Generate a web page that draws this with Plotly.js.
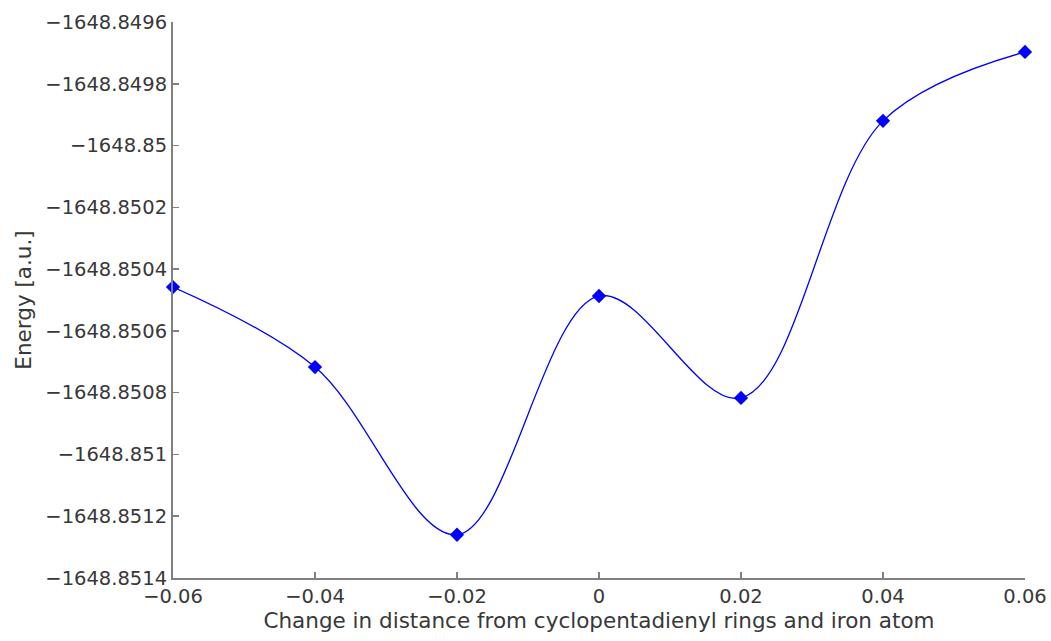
<!DOCTYPE html>
<html>
<head>
<meta charset="utf-8">
<script src="https://cdn.plot.ly/plotly-3.0.1.min.js"></script>
<style>html,body{margin:0;padding:0;background:#fff;}#chart{width:1051px;height:641px;}</style>
</head>
<body>
<div id="chart"></div>
<script>
const distanceChange = [-0.06, -0.04, -0.02, 0, 0.02, 0.04, 0.06];
const energy = [-1648.850458, -1648.850717, -1648.851260, -1648.850487, -1648.850817, -1648.849920, -1648.849697];
const yTickVals = [-1648.8514, -1648.8512, -1648.8510, -1648.8508, -1648.8506, -1648.8504, -1648.8502, -1648.8500, -1648.8498, -1648.8496];
const yTickText = ["\u22121648.8514", "\u22121648.8512", "\u22121648.851", "\u22121648.8508", "\u22121648.8506", "\u22121648.8504", "\u22121648.8502", "\u22121648.85", "\u22121648.8498", "\u22121648.8496"];
const xTickVals = [-0.06, -0.04, -0.02, 0, 0.02, 0.04, 0.06];
const xTickText = ["\u22120.06", "\u22120.04", "\u22120.02", "0", "0.02", "0.04", "0.06"];

const tickFont = {family: "DejaVu Sans, sans-serif", size: 19.5, color: "#383838"};
const titleFont = {family: "DejaVu Sans, sans-serif", size: 21.5, color: "#383838"};

Plotly.newPlot("chart", [{
  x: distanceChange,
  y: energy,
  type: "scatter",
  mode: "lines+markers",
  line: {color: "#0000ff", width: 1.3, shape: "spline", smoothing: 1},
  marker: {color: "#0000ff", symbol: "diamond", size: 11},
  cliponaxis: false,
  hoverinfo: "skip"
}], {
  width: 1051, height: 641,
  margin: {l: 173, r: 26, t: 22, b: 63},
  paper_bgcolor: "#ffffff", plot_bgcolor: "#ffffff",
  font: tickFont,
  showlegend: false,
  xaxis: {
    range: [-0.06, 0.06],
    tickvals: xTickVals, ticktext: xTickText,
    ticks: "inside", ticklen: 6, tickwidth: 1.5, tickcolor: "#808080",
    showline: true, linecolor: "#808080", linewidth: 2,
    showgrid: false, zeroline: false,
    tickfont: tickFont,
    automargin: false,
    title: {text: "Change in distance from cyclopentadienyl rings and iron atom", font: titleFont, standoff: 2}
  },
  yaxis: {
    range: [-1648.8514, -1648.8496],
    tickvals: yTickVals, ticktext: yTickText,
    ticks: "inside", ticklen: 6, tickwidth: 1.5, tickcolor: "#808080",
    showline: true, linecolor: "#808080", linewidth: 2,
    showgrid: false, zeroline: false,
    tickfont: tickFont,
    automargin: false,
    title: {text: "Energy [a.u.]", font: titleFont, standoff: 8}
  }
}, {displayModeBar: false, staticPlot: true});
</script>
</body>
</html>
